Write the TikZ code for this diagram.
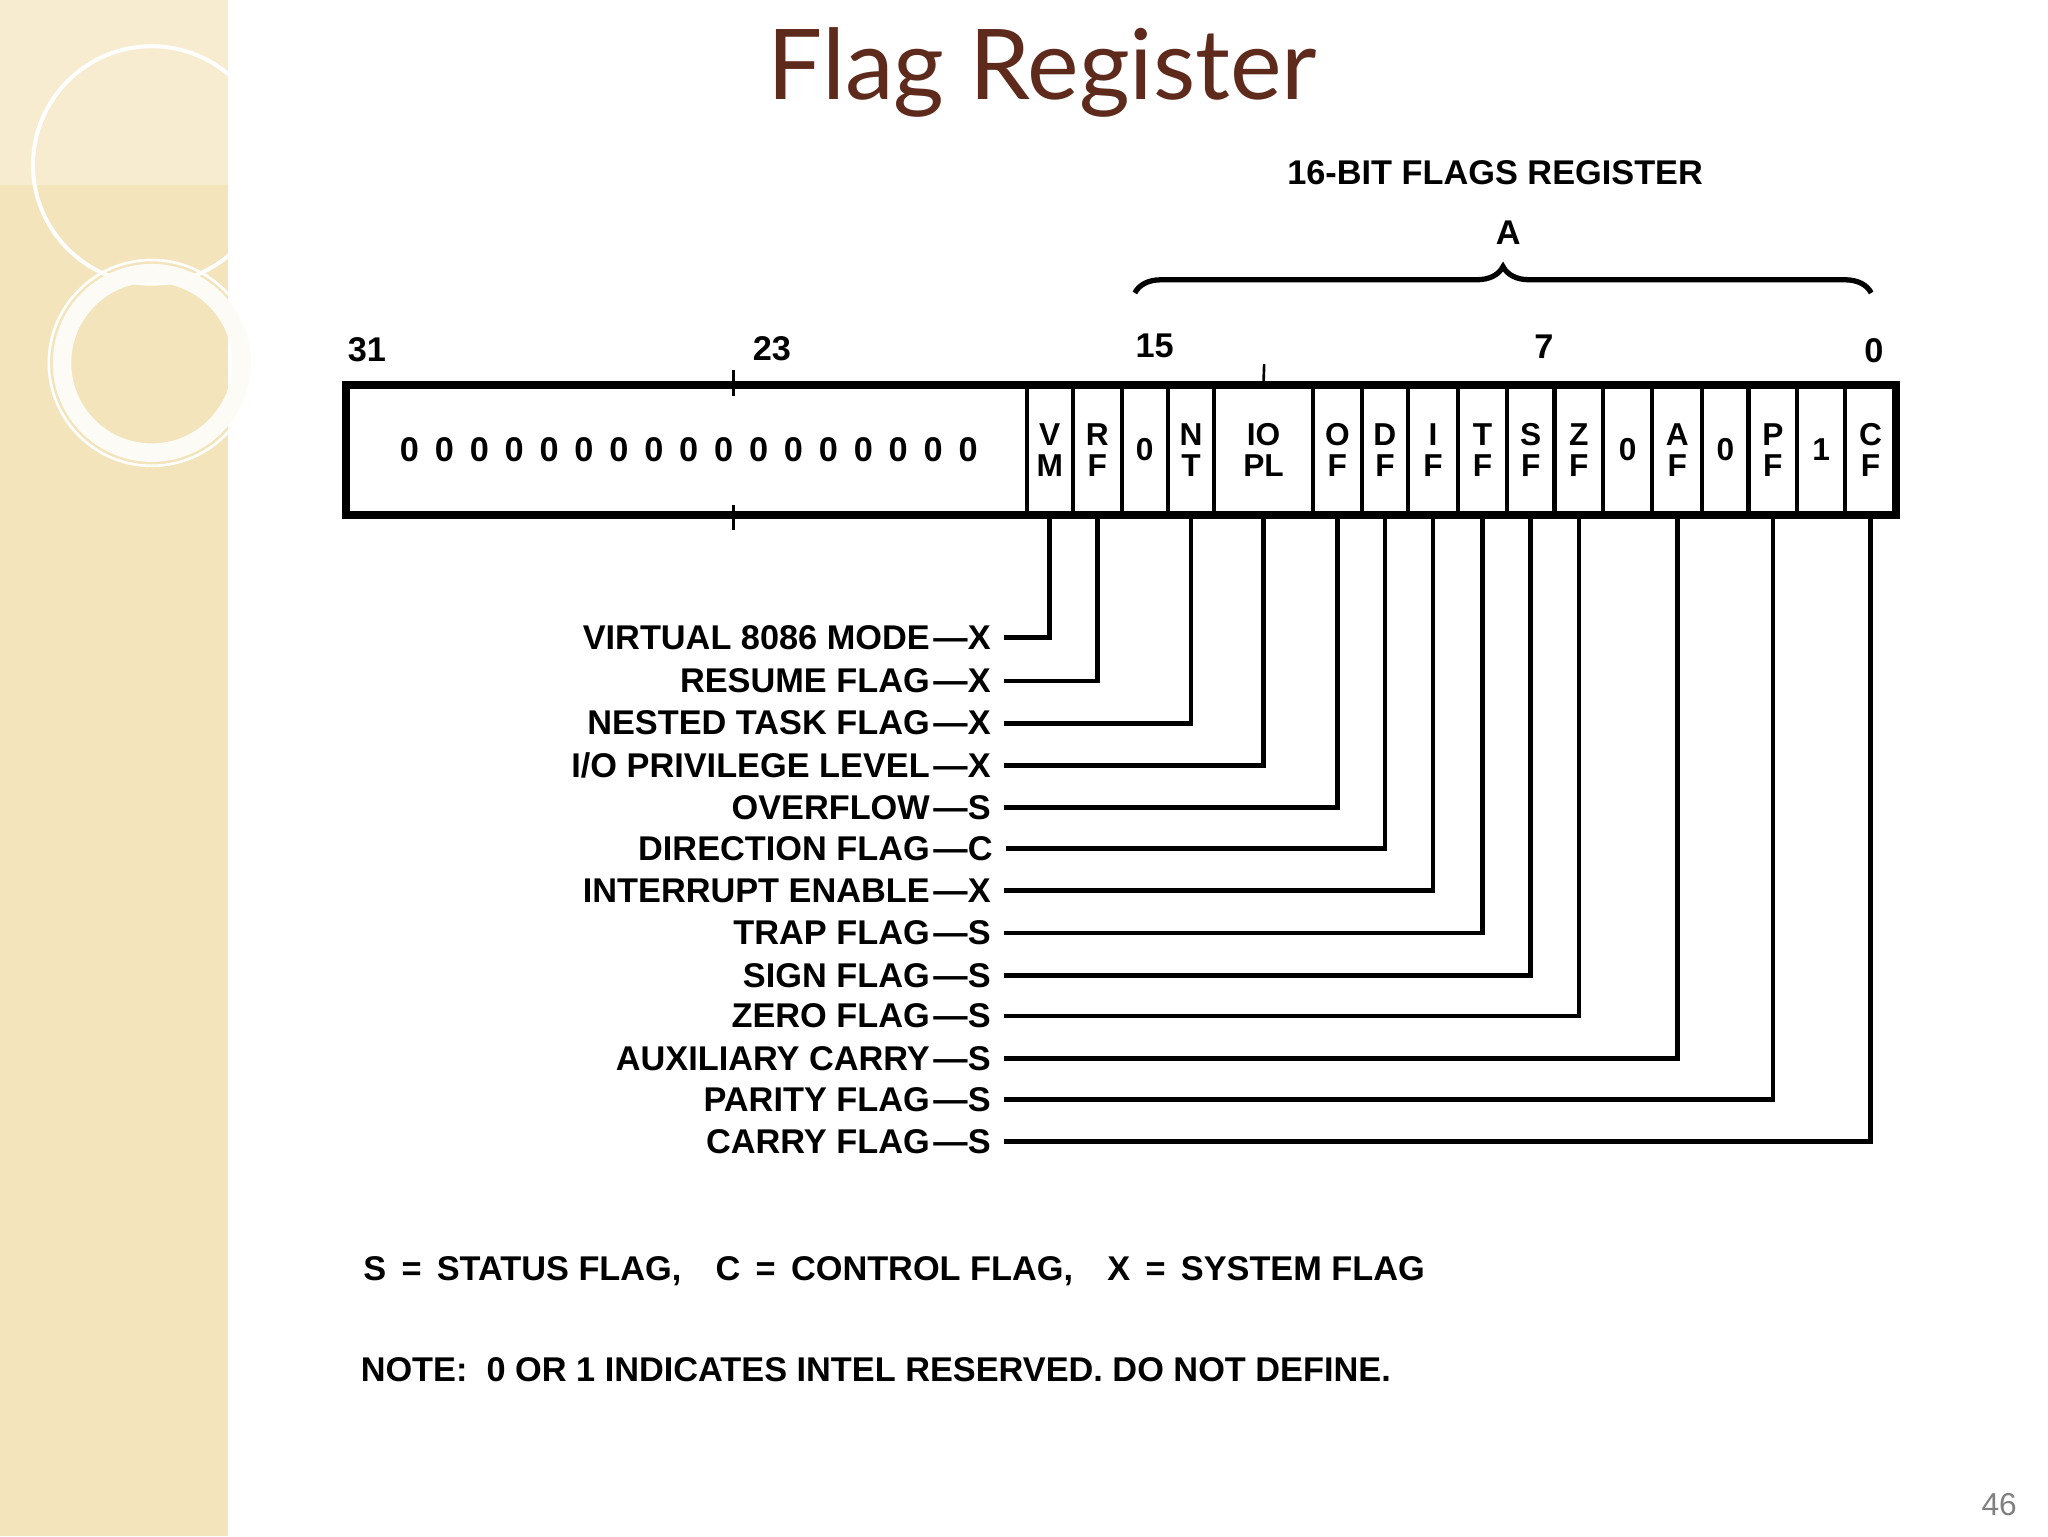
\documentclass[tikz,border=0pt]{standalone}
\usepackage{fontspec}
\setmainfont{Liberation Sans}
\newfontfamily\titlefont{Lato}
\usetikzlibrary{decorations.pathreplacing}
\definecolor{beige}{HTML}{F3E4BC}
\definecolor{titlebrown}{HTML}{5E2A1C}
\begin{document}
\begin{tikzpicture}[x=0.5pt,y=-0.5pt,
  lab/.style={font=\fontsize{13}{14}\selectfont\bfseries,inner sep=0pt},
  cell/.style={draw,line width=1.6pt,minimum height=49pt,inner sep=0pt,font=\fontsize{12}{12}\selectfont\bfseries,align=center},
  wire/.style={line width=1.8pt}]
\useasboundingbox (0,0) rectangle (1552,1164);
\fill[white] (0,0) rectangle (1552,1164);
\fill[beige] (0,0) rectangle (173,1164);
\fill[beige!70!white] (0,0) rectangle (173,140);
\draw[white,line width=1.5pt] (115,125) circle (90);
\draw[white!85!beige,line width=7pt] (115,275) circle (68);
\draw[white,line width=1pt] (115,275) circle (78);
% title
\node[font=\titlefont\fontsize{37}{37}\selectfont,text=titlebrown] (title) at (790,55) {Flag Register};
% register
\node[lab] (zeros) at (522,341) {0\hspace{6pt}0\hspace{6pt}0\hspace{6pt}0\hspace{6pt}0\hspace{6pt}0\hspace{6pt}0\hspace{6pt}0\hspace{6pt}0\hspace{6pt}0\hspace{6pt}0\hspace{6pt}0\hspace{6pt}0\hspace{6pt}0\hspace{6pt}0\hspace{6pt}0\hspace{6pt}0};
\foreach \n/\a/\b/\t in {VM/778/813/{V\\M},RF/813/850/{R\\F},Z1/850/885/{0},NT/885/920/{N\\T},IO/920/995/{IO\\PL},OF/995/1032/{O\\F},DF/1032/1067/{D\\F},IF/1067/1105/{I\\F},TF/1105/1142/{T\\F},SF/1142/1178/{S\\F},ZF/1178/1215/{Z\\F},Z2/1215/1252/{0},AF/1252/1290/{A\\F},Z3/1290/1325/{0},PF/1325/1362/{P\\F},O1/1362/1398/{1},CF/1398/1437/{C\\F}}
  \node[cell,minimum width={(\b-\a)*0.5pt}] (\n) at ({(\a+\b)/2},341) {\t};
\draw[line width=3pt] (262,292) rectangle (1437,390);
\coordinate (t23a) at (556,280); \coordinate (t23b) at (556,402);
\draw[line width=1pt] (t23a) -- (556,300) (556,383) -- (t23b);
\coordinate (tio) at (958,276);
\draw[line width=1pt] (tio) -- (IO.north);
% bit numbers
\foreach \n/\x/\y/\t in {b31/278/265/31,b23/585/264/23,b15/875/262/15,b7/1170/263/7,b0/1420/266/0}
  \node[lab] (\n) at (\x,\y) {\t};
\draw[line width=2pt,decoration={brace,amplitude=10pt},decorate] (860,222) -- (1418,222);
\node[lab] (A) at (1143,176) {A};
\node[lab] (reg) at (1133,131) {16-BIT FLAGS REGISTER};
% labels and wires
\foreach \i/\y/\t/\k/\c in {1/483/{VIRTUAL 8086 MODE}/X/VM,2/516/{RESUME FLAG}/X/RF,3/548/{NESTED TASK FLAG}/X/NT,4/580/{I/O PRIVILEGE LEVEL}/X/IO,5/612/{OVERFLOW}/S/OF,6/643/{DIRECTION FLAG}/C/DF,7/675/{INTERRUPT ENABLE}/X/IF,8/707/{TRAP FLAG}/S/TF,9/739/{SIGN FLAG}/S/SF,10/770/{ZERO FLAG}/S/ZF,11/802/{AUXILIARY CARRY}/S/AF,12/833/{PARITY FLAG}/S/PF,13/865/{CARRY FLAG}/S/CF}{
  \node[lab,anchor=east] (l\i) at (705,\y) {\t};
  \node[lab,anchor=west] (k\i) at (707,\y) {\textemdash\k};
  \draw[wire] (k\i.east) ++(5pt,0) coordinate (s\i) -- (s\i -| \c.south) -- (\c.south);
}
% legend
\node[lab,anchor=west] (leg) at (275,963) {S \,=\, STATUS FLAG,\quad C \,=\, CONTROL FLAG,\quad X \,=\, SYSTEM FLAG};
\node[lab,anchor=west] (note) at (273,1038) {NOTE:\ \ 0 OR 1 INDICATES INTEL RESERVED. DO NOT DEFINE.};
\node[font=\fontsize{12}{12}\selectfont,text=gray] (pg) at (1515,1140) {46};
\end{tikzpicture}
\end{document}
